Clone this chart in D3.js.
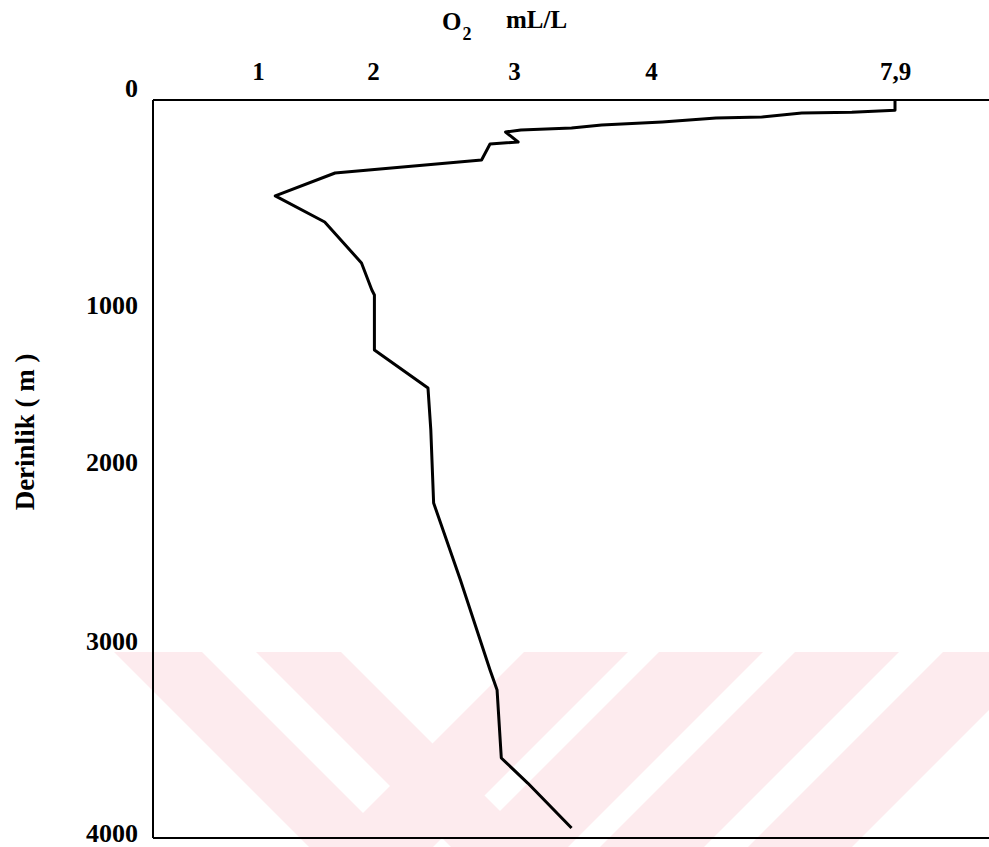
<!DOCTYPE html>
<html>
<head>
<meta charset="utf-8">
<script src="https://cdn.jsdelivr.net/npm/d3@7"></script>
<style>
  body { margin: 0; background: #fff; }
  text { font-family: "Liberation Serif", "Times New Roman", serif; font-weight: bold; fill: #000; }
</style>
</head>
<body>
<script>
const width = 989;
const height = 847;

// dissolved oxygen profile
const depth  = [0, 50, 60, 63, 83, 88, 107, 122, 137, 146, 156, 205, 215, 293, 356, 468, 595, 795, 927, 951, 1287, 1529, 1796, 2229, 2659, 3147, 3249, 3594, 3721, 3949];
const oxygen = [7.9, 7.9, 7.21, 6.41, 5.77, 5.04, 4.18, 3.64, 3.42, 3.05, 2.94, 3.03, 2.83, 2.77, 1.67, 1.15, 1.58, 1.90, 1.99, 2.01, 2.01, 2.39, 2.41, 2.43, 2.62, 2.83, 2.88, 2.91, 3.10, 3.42];

const xTicks = [1, 2, 3, 4, 7.9];
const yTicks = [0, 1000, 2000, 3000, 4000];

const plotLeft = 153, plotTop = 100, plotBottom = 838;

const svg = d3.select('body').append('svg')
    .attr('width', width)
    .attr('height', height);

// the original axes are drawn by hand, so the scales are piecewise
const x = d3.scaleLinear()
    .domain([0, 1, 2, 3, 4, 7.9])
    .range([plotLeft, 258, 373, 514, 651, 895]);

const y = d3.scaleLinear()
    .domain(yTicks)
    .range([plotTop, 305, 462, 641, plotBottom]);

// faint pink watermark stripes of the scan
const wmTop = 652;
const bands = [
  {x0: 114, w: 88, dir: 1},
  {x0: 256, w: 85, dir: 1},
  {x0: 524, w: 104, dir: -1},
  {x0: 659, w: 104, dir: -1},
  {x0: 795, w: 104, dir: -1},
  {x0: 943, w: 104, dir: -1}
];
const wm = svg.append('g').attr('fill', '#fdebee');
bands.forEach(b => {
  const s = (height - wmTop) * b.dir;
  wm.append('polygon')
    .attr('points', [[b.x0, wmTop], [b.x0 + b.w, wmTop], [b.x0 + b.w + s, height], [b.x0 + s, height]].join(' '));
});

// frame: left, top and bottom lines
const frame = svg.append('g').attr('stroke', '#000').attr('stroke-width', 2);
frame.append('line').attr('x1', plotLeft).attr('x2', plotLeft).attr('y1', plotTop).attr('y2', plotBottom);
frame.append('line').attr('x1', plotLeft).attr('x2', width).attr('y1', plotTop).attr('y2', plotTop);
frame.append('line').attr('x1', plotLeft).attr('x2', width).attr('y1', plotBottom).attr('y2', plotBottom);

// top axis (O2)
const xAxis = svg.append('g')
    .attr('transform', `translate(0,${plotTop})`)
    .call(d3.axisTop(x).tickValues(xTicks).tickSize(0).tickPadding(20)
      .tickFormat(d => String(d).replace('.', ',')));
xAxis.select('.domain').remove();
xAxis.selectAll('text').style('font-size', '25px').style('font-family', null);

// left axis (depth)
const yAxis = svg.append('g')
    .attr('transform', `translate(${plotLeft},0)`)
    .call(d3.axisLeft(y).tickValues(yTicks).tickSize(0).tickPadding(15)
      .tickFormat(d => String(d)));
yAxis.select('.domain').remove();
yAxis.selectAll('text')
    .style('font-size', '26px').style('font-family', null)
    .attr('dy', d => d === 0 ? '-0.15em' : d === 4000 ? '0.12em' : '0.32em');
svg.selectAll('.tick text').attr('fill', '#000');

// axis titles
const t = svg.append('text').attr('x', 442).attr('y', 30).style('font-size', '25px');
t.append('tspan').text('O');
t.append('tspan').attr('dy', 10).attr('dx', 1).style('font-size', '18px').text('2');
t.append('tspan').attr('x', 506).attr('y', 28).text('mL/L');

svg.append('text')
    .attr('transform', 'translate(34,432) rotate(-90)')
    .attr('text-anchor', 'middle')
    .style('font-size', '27px')
    .text('Derinlik ( m )');

// profile line
const profile = depth.map((d, i) => ({d: d, o: oxygen[i]}));
const line = d3.line()
    .x(p => x(p.o))
    .y(p => y(p.d));

svg.append('path')
    .datum(profile)
    .attr('fill', 'none')
    .attr('stroke', '#000')
    .attr('stroke-width', 3)
    .attr('stroke-linejoin', 'round')
    .attr('d', line);
</script>
</body>
</html>
